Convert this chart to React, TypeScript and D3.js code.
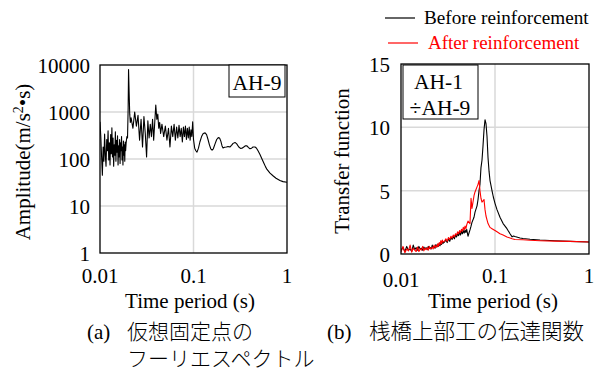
import React from 'react';
import * as d3 from 'd3';

// ---------- tick labels ----------
const periodTicks = [0.01, 0.1, 1];
const periodTickLabels = ['0.01', '0.1', '1'];
const ampTicks = [1, 10, 100, 1000, 10000];
const ampTickLabels = ['1', '10', '100', '1000', '10000'];
const tfTicks = [0, 5, 10, 15];
const tfTickLabels = ['0', '5', '10', '15'];

// ---------- (a) Fourier spectrum at virtual fixed point ----------
const ampPeriodA = [0.0100, 0.0102, 0.0104, 0.0106, 0.0108, 0.0110, 0.0112, 0.0114, 0.0116, 0.0118, 0.0120, 0.0122, 0.0124, 0.0126, 0.0128, 0.0130, 0.0132, 0.0134, 0.0136, 0.0138, 0.0140, 0.0142, 0.0144, 0.0146, 0.0148, 0.0150, 0.0152, 0.0154, 0.0156, 0.0158, 0.0160, 0.0162, 0.0164, 0.0166, 0.0168, 0.0170, 0.0172, 0.0174, 0.0176, 0.0178, 0.0180, 0.0182, 0.0184, 0.0186, 0.0188, 0.0190, 0.0192, 0.0194];
const ampValueA = [620, 300, 110, 45, 180, 90, 340, 120, 70, 260, 150, 400, 95, 220, 75, 330, 130, 460, 110, 280, 70, 200, 120, 380, 90, 250, 140, 310, 75, 190, 110, 260, 80, 220, 150, 300, 95, 180, 75, 240, 120, 200, 90, 230, 150, 210, 260, 300];
const ampPeriodSpike = [0.0197, 0.0200, 0.0202, 0.0205, 0.0208, 0.0211];
const ampValueSpike = [280, 1200, 8000, 2500, 900, 600];
const ampPeriodB = [0.0215, 0.0225, 0.0235, 0.0245, 0.0255, 0.0265, 0.0275, 0.0285, 0.0295, 0.0305, 0.0315, 0.0325, 0.0335, 0.0345, 0.0355, 0.0365, 0.0375, 0.0385, 0.0395, 0.0405, 0.0415, 0.0425, 0.0435, 0.0445];
const ampValueB = [750, 450, 1000, 500, 850, 250, 700, 180, 800, 350, 110, 650, 280, 550, 300, 700, 250, 600, 1400, 700, 900, 450, 600, 350];
const ampPeriodC = [0.046, 0.048, 0.050, 0.052, 0.054, 0.056, 0.058, 0.060, 0.062, 0.064, 0.066, 0.068, 0.070, 0.072, 0.074, 0.076, 0.078, 0.080, 0.082, 0.084, 0.086, 0.088, 0.090, 0.092, 0.094, 0.096, 0.098];
const ampValueC = [550, 300, 500, 250, 450, 180, 500, 300, 550, 250, 480, 280, 520, 300, 450, 230, 480, 300, 500, 260, 450, 280, 480, 250, 420, 300, 620];
const ampPeriodD = [0.1, 0.103, 0.106, 0.109, 0.113, 0.117, 0.122, 0.127, 0.133, 0.138, 0.143, 0.148, 0.153, 0.158, 0.163, 0.170, 0.177, 0.184, 0.190, 0.196, 0.202, 0.207, 0.215, 0.225, 0.234, 0.245, 0.255, 0.265, 0.278, 0.290, 0.305, 0.318, 0.330, 0.345, 0.360, 0.373, 0.388, 0.402, 0.418, 0.433, 0.455, 0.47, 0.49, 0.514, 0.54, 0.568, 0.59, 0.611, 0.658, 0.708, 0.763, 0.841, 0.906, 1.0];
const ampValueD = [260, 170, 150, 140, 170, 230, 300, 350, 360, 330, 260, 200, 165, 155, 165, 210, 260, 285, 280, 240, 190, 172, 178, 180, 185, 180, 195, 215, 225, 210, 180, 168, 170, 180, 192, 190, 175, 165, 170, 180, 180, 172, 150, 125, 100, 80, 68, 60, 50, 44, 39, 35, 33, 32];

// ---------- (b) transfer function AH-1 / AH-9 ----------
const lowPeriod = [0.0100, 0.0105, 0.0110, 0.0115, 0.0120, 0.0125, 0.0130, 0.0135, 0.0140, 0.0145, 0.0150, 0.0155, 0.0160, 0.0165, 0.0170, 0.0175, 0.0180, 0.0185, 0.0190, 0.0195, 0.0200, 0.0205, 0.0210, 0.0215, 0.0220, 0.0225, 0.0230, 0.0235, 0.0240, 0.0245, 0.0250, 0.0255, 0.0260, 0.0265, 0.0270, 0.0275, 0.0280, 0.029, 0.030, 0.031, 0.032, 0.033, 0.034, 0.035, 0.036, 0.037, 0.038, 0.039, 0.040, 0.041, 0.042, 0.043, 0.044, 0.045, 0.046, 0.047, 0.048, 0.049, 0.050];
const beforeLow = [0.3, 0.5, 0.2, 0.6, 0.3, 0.4, 0.2, 0.7, 0.35, 0.5, 0.3, 0.6, 0.4, 0.45, 0.3, 0.55, 0.4, 0.5, 0.35, 0.6, 0.45, 0.5, 0.4, 0.7, 0.5, 0.6, 0.45, 0.75, 0.55, 0.7, 0.6, 0.85, 0.65, 0.9, 0.75, 1.0, 0.85, 0.95, 1.1, 0.9, 1.2, 1.0, 1.3, 1.15, 1.4, 1.2, 1.5, 1.35, 1.6, 1.45, 1.7, 1.5, 1.8, 1.6, 1.85, 1.65, 1.9, 1.7, 1.95];
const afterLow = [0.15, 0.6, 0.1, 0.4, 0.25, 0.7, 0.15, 0.45, 0.3, 0.2, 0.55, 0.2, 0.4, 0.3, 0.6, 0.25, 0.45, 0.35, 0.5, 0.3, 0.6, 0.4, 0.45, 0.55, 0.4, 0.7, 0.5, 0.65, 0.55, 0.8, 0.6, 0.9, 0.75, 1.05, 0.8, 1.1, 0.95, 1.0, 1.2, 1.0, 1.3, 1.15, 1.4, 1.25, 1.5, 1.35, 1.6, 1.5, 1.75, 1.6, 1.85, 1.7, 1.95, 1.8, 2.1, 1.9, 2.2, 2.0, 2.3];
const beforePeakPeriod = [0.0516, 0.0542, 0.0556, 0.0569, 0.0598, 0.0613, 0.0644, 0.066, 0.0676, 0.0692, 0.0709, 0.0727, 0.0745, 0.0764, 0.0783, 0.0802, 0.0822, 0.0843, 0.0865, 0.0885, 0.0907, 0.0929, 0.096, 0.1, 0.105, 0.113, 0.122, 0.134, 0.1445, 0.152, 0.157, 0.163, 0.1846, 0.1986, 0.2356, 0.301, 0.434, 0.628, 1.0];
const beforePeakValue = [1.4, 1.9, 2.2, 2.5, 2.9, 3.3, 3.8, 4.3, 5.0, 5.5, 6.8, 7.4, 8.5, 9.8, 10.6, 10.3, 9.3, 7.6, 6.5, 5.8, 5.4, 5.0, 4.5, 4.0, 3.5, 2.9, 2.4, 2.0, 1.6, 1.35, 1.42, 1.38, 1.27, 1.22, 1.16, 1.1, 1.05, 1.0, 0.95];
const afterPeakPeriod = [0.0516, 0.0542, 0.0556, 0.0569, 0.0598, 0.0613, 0.0644, 0.066, 0.0676, 0.0692, 0.0709, 0.0727, 0.0745, 0.0764, 0.0783, 0.0802, 0.0822, 0.0843, 0.0885, 0.0929, 0.1, 0.105, 0.113, 0.122, 0.134, 0.152, 0.163, 0.1986, 0.2356, 0.301, 0.434, 0.628, 1.0];
const afterPeakValue = [2.6, 2.4, 4.4, 3.6, 4.6, 4.9, 5.3, 5.5, 5.8, 5.0, 4.4, 4.1, 4.2, 4.3, 3.5, 3.0, 2.7, 2.4, 2.1, 2.0, 1.85, 1.75, 1.6, 1.5, 1.35, 1.2, 1.15, 1.12, 1.08, 1.05, 1.02, 1.0, 0.95];

const seriesNames = ['Before reinforcement', 'After reinforcement'];
const seriesColors = ['#000000', '#ff0000'];

const zip = (a: number[], b: number[]) => a.map((v, i) => [v, b[i]] as [number, number]);

const SERIF = "'Liberation Serif','Times New Roman',serif";
const JP = "'Liberation Serif','Noto Sans CJK JP',sans-serif";

export default function App() {
  const xA = d3.scaleLog().domain([0.01, 1]).range([100, 287]);
  const yA = d3.scaleLog().domain([1, 10000]).range([253, 65]);
  const xB = d3.scaleLog().domain([0.01, 1]).range([401, 589]);
  const yB = d3.scaleLinear().domain([0, 15]).range([254, 64]);

  const ampData = zip(
    [...ampPeriodA, ...ampPeriodSpike, ...ampPeriodB, ...ampPeriodC, ...ampPeriodD],
    [...ampValueA, ...ampValueSpike, ...ampValueB, ...ampValueC, ...ampValueD]
  );
  const beforeData = zip([...lowPeriod, ...beforePeakPeriod], [...beforeLow, ...beforePeakValue]);
  const afterData = zip([...lowPeriod, ...afterPeakPeriod], [...afterLow, ...afterPeakValue]);

  const lineA = d3.line<[number, number]>().x(d => xA(d[0])).y(d => yA(d[1]));
  const lineB = d3.line<[number, number]>().x(d => xB(d[0])).y(d => yB(d[1]));

  const grid = '#d9d9d9';
  const fs = 21;

  return (
    <svg width={601} height={372} style={{ position: 'absolute', left: 0, top: 0, background: '#fff' }}>
      <defs>
        <clipPath id="clipA"><rect x={100} y={65} width={187} height={188} /></clipPath>
        <clipPath id="clipB"><rect x={401} y={64} width={188} height={190} /></clipPath>
      </defs>
      <rect x={0} y={0} width={601} height={372} fill="#fff" />

      {/* ---------- chart (a) ---------- */}
      {ampTicks.filter((t, i) => i > 0 && i < ampTicks.length - 1).map(t => (
        <line key={'ga' + t} x1={100} x2={287} y1={yA(t)} y2={yA(t)} stroke={grid} strokeWidth={1.5} />
      ))}
      <line x1={xA(0.1)} x2={xA(0.1)} y1={65} y2={253} stroke={grid} strokeWidth={1.5} />
      <path d={lineA(ampData) || ''} fill="none" stroke="#000" strokeWidth={1.1} clipPath="url(#clipA)" strokeLinejoin="round" />
      <rect x={100} y={65} width={187} height={188} fill="none" stroke="#000" strokeWidth={1.3} />
      <rect x={229} y={65} width={56} height={32} fill="#fff" stroke="#000" strokeWidth={1} />
      <text x={257} y={90} textAnchor="middle" fontFamily={SERIF} fontSize={21.5}>AH-9</text>

      {ampTicks.map((t, i) => (
        <text key={'ya' + t} x={90} y={yA(t) + 1} dy="0.33em" textAnchor="end" fontFamily={SERIF} fontSize={fs}>{ampTickLabels[i]}</text>
      ))}
      {periodTicks.map((t, i) => (
        <text key={'xa' + t} x={xA(t)} y={283} textAnchor="middle" fontFamily={SERIF} fontSize={fs}>{periodTickLabels[i]}</text>
      ))}
      <text x={190} y={308} textAnchor="middle" fontFamily={SERIF} fontSize={fs}>Time period (s)</text>
      <text transform="translate(24,162) rotate(-90)" textAnchor="middle" dy="0.3em" fontFamily={JP} fontSize={fs}>
        Amplitude(m/s<tspan dy={-7} fontSize={14}>2</tspan><tspan dy={7}>•s)</tspan>
      </text>

      {/* ---------- chart (b) ---------- */}
      {tfTicks.filter((t, i) => i > 0 && i < tfTicks.length - 1).map(t => (
        <line key={'gb' + t} x1={401} x2={589} y1={yB(t)} y2={yB(t)} stroke={grid} strokeWidth={1.5} />
      ))}
      <line x1={xB(0.1)} x2={xB(0.1)} y1={64} y2={254} stroke={grid} strokeWidth={1.5} />
      <path d={lineB(beforeData) || ''} fill="none" stroke={seriesColors[0]} strokeWidth={1.1} clipPath="url(#clipB)" strokeLinejoin="round" />
      <path d={lineB(afterData) || ''} fill="none" stroke={seriesColors[1]} strokeWidth={1.1} clipPath="url(#clipB)" strokeLinejoin="round" />
      <rect x={401} y={64} width={188} height={190} fill="none" stroke="#000" strokeWidth={1.3} />
      <rect x={403} y={65} width={75} height={54} fill="#fff" stroke="#000" strokeWidth={1} />
      <text x={438.5} y={89} textAnchor="middle" fontFamily={SERIF} fontSize={21.5}>AH-1</text>
      <text x={440} y={115} textAnchor="middle" fontFamily={SERIF} fontSize={21.5}>÷AH-9</text>

      {tfTicks.map((t, i) => (
        <text key={'yb' + t} x={390} y={yB(t) + 1} dy="0.33em" textAnchor="end" fontFamily={SERIF} fontSize={fs}>{tfTickLabels[i]}</text>
      ))}
      {periodTicks.map((t, i) => (
        <text key={'xb' + t} x={xB(t)} y={i === 0 ? 287 : 283} textAnchor="middle" fontFamily={SERIF} fontSize={fs}>{periodTickLabels[i]}</text>
      ))}
      <text x={493} y={308} textAnchor="middle" fontFamily={SERIF} fontSize={fs}>Time period (s)</text>
      <text transform="translate(343,161) rotate(-90)" textAnchor="middle" dy="0.3em" fontFamily={SERIF} fontSize={fs}>Transfer function</text>

      {/* legend */}
      <line x1={385} x2={415} y1={18} y2={18} stroke={seriesColors[0]} strokeWidth={1.2} />
      <text x={424} y={24} fontFamily={SERIF} fontSize={19.2} fill={seriesColors[0]}>{seriesNames[0]}</text>
      <line x1={388} x2={418} y1={43} y2={43} stroke={seriesColors[1]} strokeWidth={1.2} />
      <text x={428} y={49} fontFamily={SERIF} fontSize={19} fill={seriesColors[1]}>{seriesNames[1]}</text>

      {/* captions */}
      <text x={87} y={339} fontFamily={SERIF} fontSize={fs}>(a)</text>
      <text x={127} y={339} fontFamily={JP} fontSize={fs} fontWeight={300}>仮想固定点の</text>
      <text x={127} y={366} fontFamily={JP} fontSize={fs} fontWeight={300}>フーリエスペクトル</text>
      <text x={327} y={339} fontFamily={SERIF} fontSize={fs}>(b)</text>
      <text x={369} y={339} fontFamily={JP} fontSize={21.5} fontWeight={300}>桟橋上部工の伝達関数</text>
    </svg>
  );
}
